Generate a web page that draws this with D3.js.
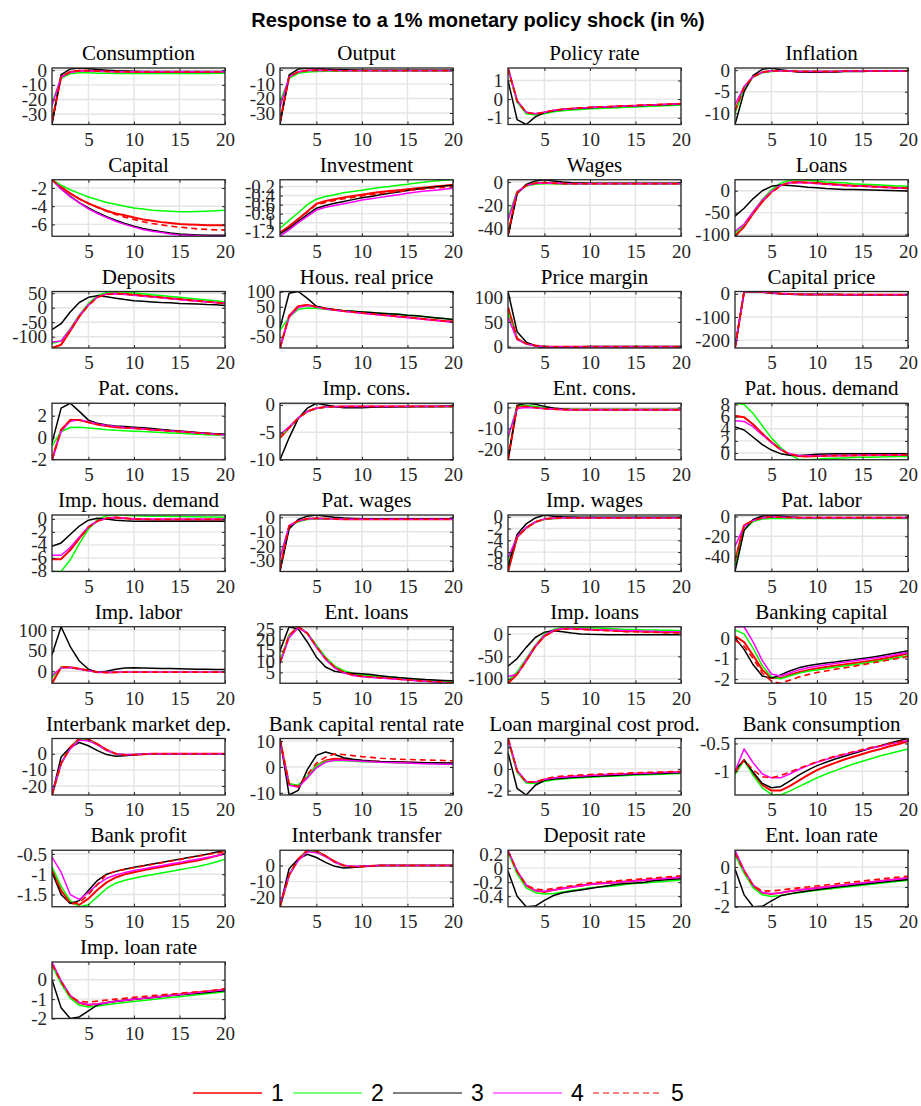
<!DOCTYPE html>
<html>
<head>
<meta charset="utf-8">
<style>
  body { margin: 0; background: #fff; }
  .main-title { font-family: "Liberation Sans", Arial, sans-serif; font-weight: bold; font-size: 20px; fill: #000; text-anchor: middle; }
  .ptitle { font-family: "Liberation Serif", "DejaVu Serif", serif; font-size: 21px; fill: #000; text-anchor: middle; }
  .tick text { font-family: "Liberation Serif", "DejaVu Serif", serif; font-size: 19px; fill: #262626; }
  .grid line { stroke: #e4e4e4; stroke-width: 1.4; }
  .frame { fill: none; stroke: #262626; stroke-width: 1.3; }
  .legend text { font-family: "Liberation Sans", Arial, sans-serif; font-size: 23px; fill: #000; }
</style>
<script src="https://cdn.jsdelivr.net/npm/d3@7"></script>
</head>
<body>
<svg width="921" height="1106"></svg>
<script>
var periods = [1,2,3,4,5,6,7,8,9,10,11,12,13,14,15,16,17,18,19,20];
var xTicks = [5, 10, 15, 20];
var legendLabels = ["1", "2", "3", "4", "5"];

var titles = ["Consumption", "Output", "Policy rate", "Inflation",
  "Capital", "Investment", "Wages", "Loans",
  "Deposits", "Hous. real price", "Price margin", "Capital price",
  "Pat. cons.", "Imp. cons.", "Ent. cons.", "Pat. hous. demand",
  "Imp. hous. demand", "Pat. wages", "Imp. wages", "Pat. labor",
  "Imp. labor", "Ent. loans", "Imp. loans", "Banking capital",
  "Interbank market dep.", "Bank capital rental rate", "Loan marginal cost prod.", "Bank consumption",
  "Bank profit", "Interbank transfer", "Deposit rate", "Ent. loan rate",
  "Imp. loan rate"];

var yTicks = [[-30,-20,-10,0], [-30,-20,-10,0], [-1,0,1], [-10,-5,0],
  [-6,-4,-2], [-1.2,-1,-0.8,-0.6,-0.4,-0.2], [-40,-20,0], [-100,-50,0],
  [-100,-50,0,50], [-50,0,50,100], [0,50,100], [-200,-100,0],
  [-2,0,2], [-10,-5,0], [-20,-10,0], [0,2,4,6,8],
  [-8,-6,-4,-2,0], [-30,-20,-10,0], [-8,-6,-4,-2,0], [-40,-20,0],
  [0,50,100], [5,10,15,20,25], [-100,-50,0], [-2,-1,0],
  [-20,-10,0], [-10,0,10], [-2,0,2], [-1,-0.5],
  [-1.5,-1,-0.5], [-20,-10,0], [-0.4,-0.2,0,0.2], [-2,-1,0],
  [-2,-1,0]];

// series 1 (red)
var s1 = [
  [-35,-4.5,-1.2,-0.3,-0.3,-0.6,-0.8,-1,-1.1,-1.2,-1.2,-1.2,-1.2,-1.2,-1.2,-1.2,-1.2,-1.2,-1.2,-1.2],
  [-36,-5,-1.5,-0.5,-0.4,-0.5,-0.6,-0.7,-0.7,-0.7,-0.7,-0.7,-0.7,-0.7,-0.7,-0.7,-0.7,-0.7,-0.7,-0.7],
  [1.65,-0.1,-0.72,-0.8,-0.72,-0.62,-0.56,-0.52,-0.49,-0.46,-0.44,-0.42,-0.4,-0.38,-0.36,-0.34,-0.32,-0.3,-0.28,-0.26],
  [-9.5,-4,-1.5,-0.5,-0.2,-0.2,-0.2,-0.3,-0.3,-0.3,-0.3,-0.3,-0.2,-0.2,-0.2,-0.2,-0.2,-0.2,-0.2,-0.2],
  [-1.1,-1.9,-2.6,-3.2,-3.7,-4.1,-4.5,-4.8,-5.0,-5.25,-5.45,-5.6,-5.75,-5.85,-5.95,-6.0,-6.05,-6.1,-6.1,-6.1],
  [-1.22,-1.08,-0.92,-0.75,-0.58,-0.52,-0.48,-0.44,-0.41,-0.38,-0.35,-0.32,-0.3,-0.28,-0.26,-0.24,-0.22,-0.2,-0.18,-0.16],
  [-45,-9,-3,-1,-0.5,-1,-1.3,-1.5,-1.5,-1.5,-1.5,-1.5,-1.5,-1.5,-1.5,-1.5,-1.5,-1.5,-1.5,-1.5],
  [-104,-82,-52,-25,-3,12,19,20,19,18,16,15,13,12,11,10,9,8,7,6],
  [-139,-128,-80,-30,10,38,48,50,48,45,42,39,36,33,30,27,24,21,18,15],
  [-87,20,52,56,50,44,40,36,33,30,27,24,21,18,15,12,9,6,3,1],
  [80,16,6,2,0,-0.5,-0.5,-0.5,-0.5,-0.5,-0.5,-0.5,-0.5,-0.5,-0.5,-0.5,-0.5,-0.5,-0.5,-0.5],
  [-234,8,10,8,4,1,-1,-2,-2.5,-3,-3,-3,-3.5,-3.5,-3.5,-4,-4,-4,-4,-4],
  [-2.05,0.7,1.6,1.6,1.4,1.2,1.05,0.95,0.9,0.85,0.8,0.72,0.66,0.6,0.54,0.48,0.42,0.36,0.3,0.25],
  [-6,-4.2,-2.4,-1.2,-0.6,-0.4,-0.35,-0.3,-0.3,-0.3,-0.3,-0.3,-0.3,-0.3,-0.3,-0.3,-0.3,-0.3,-0.3,-0.3],
  [-25,0.5,0.5,0,-0.5,-0.8,-1,-1.1,-1.1,-1.1,-1.1,-1.1,-1.1,-1.1,-1.1,-1.1,-1.1,-1.1,-1.1,-1.1],
  [6.1,5.9,4.7,3.2,1.8,0.6,-0.2,-0.5,-0.55,-0.5,-0.45,-0.42,-0.4,-0.38,-0.36,-0.34,-0.32,-0.3,-0.3,-0.3],
  [-6.2,-6.2,-4.8,-3.0,-1.3,-0.3,0.1,0.2,0.1,0,-0.05,-0.1,-0.1,-0.1,-0.1,-0.1,-0.1,-0.1,-0.1,-0.1],
  [-36,-6,-2.5,-1,-0.8,-1,-1.2,-1.3,-1.3,-1.3,-1.3,-1.3,-1.3,-1.3,-1.3,-1.3,-1.3,-1.3,-1.3,-1.3],
  [-9.3,-3.5,-1.9,-0.9,-0.4,-0.25,-0.2,-0.2,-0.2,-0.2,-0.2,-0.2,-0.2,-0.2,-0.2,-0.2,-0.2,-0.2,-0.2,-0.2],
  [-45,-9,-4,-1.5,-0.5,-0.8,-1,-1.2,-1.2,-1.2,-1.2,-1.2,-1.2,-1.2,-1.2,-1.2,-1.2,-1.2,-1.2,-1.2],
  [-29,10,10,6,2,-2,-3,-2.5,-2,-2,-2,-2,-2,-2,-2,-2,-2,-2,-2,-2],
  [9.5,22,26,23,17,11.5,7.5,5.2,4,3.3,3.0,2.7,2.4,2.0,1.7,1.4,1.1,0.8,0.5,0.2],
  [-110,-90,-60,-28,-5,7,12,12,11,10,9,8,7,6,6,5,5,4,4,3],
  [0.1,-0.2,-0.85,-1.55,-1.95,-1.95,-1.8,-1.66,-1.56,-1.48,-1.41,-1.35,-1.29,-1.23,-1.17,-1.1,-1.03,-0.95,-0.85,-0.75],
  [-25.6,-6,4,9.5,9,6,2.5,0,-0.8,-0.6,-0.3,0,0,0,0,0,0,0,0,0],
  [10.5,-6.5,-7.5,-3.8,0.5,2.5,3.2,3,2.7,2.4,2.2,2,1.9,1.8,1.7,1.6,1.5,1.5,1.4,1.4],
  [2.8,-0.2,-1.2,-1.25,-1.0,-0.85,-0.77,-0.72,-0.67,-0.62,-0.58,-0.54,-0.5,-0.47,-0.44,-0.41,-0.38,-0.35,-0.32,-0.3],
  [-1.02,-0.8,-1.05,-1.25,-1.35,-1.35,-1.27,-1.17,-1.07,-0.98,-0.91,-0.85,-0.79,-0.74,-0.69,-0.64,-0.6,-0.55,-0.51,-0.46],
  [-0.9,-1.4,-1.7,-1.75,-1.6,-1.38,-1.2,-1.08,-1.0,-0.95,-0.9,-0.86,-0.82,-0.78,-0.74,-0.7,-0.66,-0.61,-0.55,-0.49],
  [-25.6,-6,4,9.5,9,6,2.5,0,-0.8,-0.6,-0.3,0,0,0,0,0,0,0,0,0],
  [0.24,-0.05,-0.25,-0.32,-0.34,-0.31,-0.29,-0.27,-0.25,-0.23,-0.22,-0.21,-0.2,-0.19,-0.18,-0.17,-0.16,-0.15,-0.14,-0.13],
  [0.7,-0.2,-0.95,-1.3,-1.36,-1.3,-1.22,-1.16,-1.1,-1.05,-1.0,-0.95,-0.9,-0.85,-0.8,-0.75,-0.7,-0.65,-0.6,-0.55],
  [0.8,-0.1,-0.85,-1.2,-1.3,-1.25,-1.18,-1.11,-1.06,-1.01,-0.96,-0.91,-0.86,-0.81,-0.76,-0.71,-0.66,-0.61,-0.56,-0.5]
];

// series 2 (green)
var s2 = [
  [-22,-5.5,-2.5,-1.8,-1.8,-2,-2.1,-2.2,-2.2,-2.2,-2.2,-2.2,-2.2,-2.2,-2.2,-2.2,-2.2,-2.2,-2.1,-2.1],
  [-22,-6,-2.5,-1.5,-1.2,-1.1,-1,-1,-1,-1,-1,-1,-1,-1,-1,-1,-1,-1,-1,-1],
  [1.6,-0.15,-0.78,-0.85,-0.78,-0.68,-0.62,-0.58,-0.55,-0.52,-0.5,-0.48,-0.46,-0.44,-0.42,-0.4,-0.38,-0.36,-0.34,-0.32],
  [-10,-4.2,-1.6,-0.6,-0.3,-0.2,-0.2,-0.3,-0.3,-0.3,-0.3,-0.3,-0.2,-0.2,-0.2,-0.2,-0.2,-0.2,-0.2,-0.2],
  [-1.1,-1.7,-2.2,-2.6,-3.0,-3.3,-3.6,-3.8,-4.0,-4.2,-4.3,-4.45,-4.5,-4.55,-4.6,-4.6,-4.58,-4.55,-4.5,-4.45],
  [-1.12,-0.95,-0.78,-0.6,-0.48,-0.42,-0.38,-0.34,-0.31,-0.28,-0.25,-0.22,-0.2,-0.17,-0.15,-0.12,-0.1,-0.08,-0.06,-0.05],
  [-30,-8,-3.5,-1.8,-1.5,-1.5,-1.6,-1.6,-1.6,-1.6,-1.6,-1.6,-1.6,-1.6,-1.6,-1.6,-1.6,-1.6,-1.6,-1.6],
  [-98,-78,-48,-20,2,17,24,25,24,22,20,19,18,16,15,14,13,12,11,10],
  [-123,-115,-72,-25,15,42,53,56,54,51,48,45,42,39,36,33,30,27,24,20],
  [-28,15,42,46,45,42,39,37,35,33,31,29,27,25,22,20,17,14,11,8],
  [70,15,5,1.5,0,-0.5,-0.5,-0.5,-0.5,-0.5,-0.5,-0.5,-0.5,-0.5,-0.5,-0.5,-0.5,-0.5,-0.5,-0.5],
  [-225,6,9,7,4,1,-1,-2,-2.5,-3,-3,-3,-3.5,-3.5,-3.5,-4,-4,-4,-4,-4],
  [-0.8,0.55,0.92,0.95,0.88,0.8,0.72,0.66,0.62,0.58,0.54,0.5,0.46,0.42,0.38,0.34,0.3,0.26,0.22,0.18],
  [-5.8,-4.1,-2.4,-1.2,-0.65,-0.45,-0.4,-0.35,-0.35,-0.35,-0.35,-0.35,-0.35,-0.35,-0.35,-0.35,-0.35,-0.35,-0.35,-0.35],
  [-15,0.8,1,0.5,0,-0.5,-0.8,-1,-1,-1,-1,-1,-1,-1,-1,-1,-1,-1,-1,-1],
  [8.2,8.0,6.5,4.5,2.5,0.9,-0.3,-1.0,-1.1,-1.0,-0.9,-0.85,-0.8,-0.75,-0.7,-0.68,-0.65,-0.6,-0.58,-0.55],
  [-8.1,-8.1,-6.3,-3.8,-1.6,-0.1,0.5,0.6,0.55,0.5,0.45,0.42,0.4,0.38,0.36,0.34,0.32,0.3,0.28,0.26],
  [-27,-6.5,-3,-1.5,-1.2,-1.3,-1.4,-1.4,-1.4,-1.4,-1.4,-1.4,-1.4,-1.4,-1.4,-1.4,-1.4,-1.4,-1.4,-1.4],
  [-7.8,-3.4,-1.8,-0.9,-0.45,-0.3,-0.25,-0.25,-0.25,-0.25,-0.25,-0.25,-0.25,-0.25,-0.25,-0.25,-0.25,-0.25,-0.25,-0.25],
  [-50,-14,-5,-2.5,-2,-2,-2,-2,-2,-2,-2,-2,-2,-2,-2,-2,-2,-2,-2,-2],
  [-15,9,9,5,1.5,-2,-2.5,-2,-2,-2,-2,-2,-2,-2,-2,-2,-2,-2,-2,-2],
  [10,22,25.5,23,17.5,12,8,5.8,4.6,3.9,3.5,3.2,2.9,2.5,2.1,1.8,1.5,1.2,0.9,0.6],
  [-104,-85,-55,-25,0,10,15,16,15,14,13,12,11,10,10,9,9,8,8,7],
  [0.4,0.2,-0.5,-1.35,-1.9,-1.98,-1.85,-1.72,-1.62,-1.55,-1.48,-1.42,-1.36,-1.3,-1.24,-1.17,-1.1,-1.02,-0.94,-0.86],
  [-25,-6,3.5,9,8.5,5.5,2,0,-0.6,-0.5,-0.2,0,0,0,0,0,0,0,0,0],
  [10,-6.5,-7,-3.5,0.5,2.2,2.5,2.4,2.2,2,1.9,1.8,1.7,1.6,1.5,1.5,1.4,1.4,1.3,1.3],
  [2.6,-0.3,-1.3,-1.35,-1.15,-1.0,-0.92,-0.86,-0.81,-0.76,-0.72,-0.68,-0.64,-0.6,-0.57,-0.54,-0.51,-0.48,-0.45,-0.42],
  [-1.06,-0.8,-1.08,-1.3,-1.42,-1.43,-1.36,-1.28,-1.2,-1.12,-1.05,-0.99,-0.93,-0.87,-0.82,-0.77,-0.72,-0.68,-0.64,-0.6],
  [-0.82,-1.3,-1.65,-1.8,-1.75,-1.55,-1.35,-1.22,-1.15,-1.1,-1.05,-1.01,-0.97,-0.93,-0.89,-0.85,-0.81,-0.76,-0.7,-0.63],
  [-25,-6,3.5,9,8.5,5.5,2,0,-0.6,-0.5,-0.2,0,0,0,0,0,0,0,0,0],
  [0.22,-0.08,-0.28,-0.35,-0.37,-0.36,-0.34,-0.32,-0.3,-0.28,-0.27,-0.26,-0.25,-0.23,-0.22,-0.21,-0.2,-0.19,-0.18,-0.17],
  [0.6,-0.3,-1.05,-1.4,-1.48,-1.43,-1.36,-1.29,-1.23,-1.17,-1.12,-1.07,-1.02,-0.97,-0.92,-0.87,-0.82,-0.77,-0.72,-0.67],
  [0.75,-0.2,-0.95,-1.32,-1.4,-1.36,-1.29,-1.22,-1.17,-1.12,-1.07,-1.02,-0.97,-0.92,-0.87,-0.82,-0.77,-0.72,-0.67,-0.62]
];

// series 3 (black)
var s3 = [
  [-37,-3,0.8,1.5,1.2,0.5,0,-0.4,-0.6,-0.7,-0.8,-0.8,-0.8,-0.8,-0.8,-0.8,-0.8,-0.8,-0.8,-0.8],
  [-38,-3.5,0.5,1.2,1,0.5,0.2,0,-0.2,-0.3,-0.3,-0.3,-0.3,-0.3,-0.3,-0.3,-0.3,-0.3,-0.3,-0.3],
  [1.0,-1.1,-1.36,-0.95,-0.72,-0.62,-0.56,-0.52,-0.49,-0.46,-0.44,-0.42,-0.4,-0.38,-0.36,-0.34,-0.32,-0.3,-0.29,-0.28],
  [-12.6,-5,-1.2,0.2,0.5,0.1,-0.2,-0.4,-0.5,-0.5,-0.4,-0.4,-0.3,-0.3,-0.3,-0.2,-0.2,-0.2,-0.2,-0.2],
  [-1.1,-2.1,-2.9,-3.6,-4.2,-4.7,-5.15,-5.55,-5.9,-6.2,-6.45,-6.65,-6.8,-6.95,-7.05,-7.1,-7.15,-7.2,-7.2,-7.2],
  [-1.25,-1.12,-0.97,-0.82,-0.68,-0.62,-0.57,-0.53,-0.49,-0.45,-0.42,-0.38,-0.35,-0.32,-0.29,-0.26,-0.23,-0.21,-0.19,-0.17],
  [-46.7,-10,-2,1,2,1,0,-0.5,-0.8,-1,-1,-1,-1,-1,-1,-1,-1,-1,-1,-1],
  [-58,-40,-18,0,10,13,12,10,8,6.5,5,4,3,2.5,2,1.5,1,0.5,0,-0.5],
  [-76,-55,-15,18,36,41,38,33,28,24,22,20,18,17,15,14,13,11,10,8],
  [-20,95,101,78,52,45,40,37,35,33,31,29,27,25,22,20,17,14,11,8],
  [112,30,9,1,-3,-2.5,-1.5,-1,-0.5,0,0,0,0,0,0,0,0,0,0,0],
  [-234,9,10,8,4,0.5,-1.5,-2.5,-3,-3,-3,-3,-3.5,-3.5,-3.5,-4,-4,-4,-4,-4],
  [-0.5,2.7,3.15,2.4,1.6,1.3,1.15,1.05,1.0,0.95,0.9,0.82,0.74,0.66,0.6,0.52,0.46,0.4,0.35,0.3],
  [-10,-6,-2.5,-0.6,0.3,0,-0.3,-0.5,-0.5,-0.5,-0.45,-0.4,-0.4,-0.35,-0.35,-0.3,-0.3,-0.3,-0.25,-0.25],
  [-25,1,2,1.5,0.5,-0.3,-0.8,-1,-1,-1,-1,-1,-1,-1,-1,-1,-1,-1,-1,-1],
  [4.3,3.8,2.6,1.4,0.5,-0.1,-0.35,-0.4,-0.3,-0.2,-0.15,-0.12,-0.1,-0.1,-0.1,-0.1,-0.1,-0.1,-0.1,-0.1],
  [-4.2,-3.7,-2.4,-1.1,-0.2,0.1,0,-0.2,-0.3,-0.35,-0.35,-0.35,-0.35,-0.35,-0.35,-0.35,-0.35,-0.35,-0.35,-0.35],
  [-37.5,-8,-1.5,0.8,1.6,0.8,0,-0.5,-0.8,-1,-1,-1,-1,-1,-1,-1,-1,-1,-1,-1],
  [-8.5,-3,-1.2,-0.2,0.3,0.1,0,-0.05,-0.1,-0.1,-0.1,-0.1,-0.1,-0.1,-0.1,-0.1,-0.1,-0.1,-0.1,-0.1],
  [-55.7,-14,-3,0.5,1.5,0.5,-0.5,-1,-1.2,-1.2,-1.2,-1.2,-1.2,-1.2,-1.2,-1.2,-1.2,-1.2,-1.2,-1.2],
  [40,108,60,25,5,-3,0,5,8,8.5,8,7.5,7,6.5,6,5.5,5,5,4.5,4.5],
  [15,26,25,19,12,7.5,5.5,4.8,4.6,4.4,4.0,3.5,3.0,2.6,2.3,2.0,1.7,1.5,1.3,1.1],
  [-72,-55,-30,-8,4,7,5,2,0,-1,-1.5,-2,-2,-2,-2,-2,-2,-2,-2,-2],
  [0,-0.55,-1.3,-1.85,-1.95,-1.8,-1.6,-1.45,-1.35,-1.27,-1.21,-1.16,-1.1,-1.05,-0.99,-0.93,-0.86,-0.78,-0.7,-0.62],
  [-25.6,-2,4,7,5,2,-0.5,-1.5,-1.2,-0.6,-0.3,0,0,0,0,0,0,0,0,0],
  [11,-10.8,-9,-1,4.5,5.8,4.8,3.6,3,2.6,2.3,2.1,2,1.9,1.8,1.7,1.6,1.6,1.5,1.5],
  [1.5,-1.8,-2.4,-1.5,-1.05,-0.92,-0.86,-0.8,-0.75,-0.7,-0.66,-0.62,-0.58,-0.54,-0.5,-0.47,-0.44,-0.41,-0.38,-0.35],
  [-0.98,-0.8,-1.02,-1.22,-1.3,-1.28,-1.18,-1.07,-0.98,-0.9,-0.84,-0.78,-0.73,-0.68,-0.63,-0.58,-0.54,-0.49,-0.45,-0.41],
  [-0.95,-1.5,-1.72,-1.65,-1.4,-1.15,-1.0,-0.93,-0.88,-0.83,-0.79,-0.75,-0.71,-0.67,-0.63,-0.59,-0.55,-0.51,-0.46,-0.41],
  [-25.6,-2,4,7,5,2,-0.5,-1.5,-1.2,-0.6,-0.3,0,0,0,0,0,0,0,0,0],
  [-0.04,-0.4,-0.55,-0.54,-0.46,-0.39,-0.35,-0.33,-0.31,-0.29,-0.27,-0.25,-0.23,-0.22,-0.21,-0.2,-0.18,-0.17,-0.16,-0.15],
  [-0.1,-1.4,-2.0,-1.98,-1.7,-1.45,-1.35,-1.27,-1.2,-1.14,-1.08,-1.02,-0.97,-0.92,-0.87,-0.82,-0.77,-0.72,-0.67,-0.62],
  [0,-1.45,-2.0,-1.92,-1.6,-1.3,-1.18,-1.11,-1.06,-1.01,-0.96,-0.91,-0.86,-0.81,-0.77,-0.73,-0.69,-0.65,-0.61,-0.57]
];

// series 4 (magenta)
var s4 = [
  [-24,-4.8,-1.5,-0.6,-0.5,-0.7,-0.9,-1,-1.1,-1.1,-1.1,-1.1,-1.1,-1.1,-1.1,-1.1,-1.1,-1.1,-1.1,-1.1],
  [-26,-5,-1.6,-0.6,-0.4,-0.5,-0.6,-0.7,-0.7,-0.7,-0.7,-0.7,-0.7,-0.7,-0.7,-0.7,-0.7,-0.7,-0.7,-0.7],
  [1.67,-0.08,-0.7,-0.78,-0.7,-0.6,-0.55,-0.51,-0.48,-0.45,-0.43,-0.41,-0.39,-0.37,-0.35,-0.33,-0.31,-0.29,-0.27,-0.25],
  [-8,-3.8,-1.5,-0.5,-0.2,-0.2,-0.2,-0.3,-0.3,-0.3,-0.3,-0.3,-0.2,-0.2,-0.2,-0.2,-0.2,-0.2,-0.2,-0.2],
  [-1.1,-2.1,-2.95,-3.65,-4.3,-4.8,-5.25,-5.65,-6.0,-6.3,-6.55,-6.75,-6.9,-7.05,-7.15,-7.2,-7.25,-7.3,-7.3,-7.3],
  [-1.3,-1.16,-1.0,-0.86,-0.72,-0.66,-0.62,-0.58,-0.54,-0.5,-0.47,-0.44,-0.41,-0.38,-0.35,-0.32,-0.3,-0.28,-0.26,-0.24],
  [-33,-8.5,-3,-1.2,-0.8,-1.1,-1.3,-1.4,-1.4,-1.4,-1.4,-1.4,-1.4,-1.4,-1.4,-1.4,-1.4,-1.4,-1.4,-1.4],
  [-93,-76,-48,-22,-2,12,18,19,18,16,15,13,12,11,10,9,8,7,6,5],
  [-118,-115,-75,-27,10,38,47,48,46,43,40,37,34,31,28,25,23,20,18,16],
  [-87,15,48,54,49,43,39,35,32,29,26,23,20,17,14,11,8,5,2,-2],
  [60,14,5,1.5,0,-0.5,-0.5,-0.5,-0.5,-0.5,-0.5,-0.5,-0.5,-0.5,-0.5,-0.5,-0.5,-0.5,-0.5,-0.5],
  [-230,8,10,8,4,1,-1,-2,-2.5,-3,-3,-3,-3.5,-3.5,-3.5,-4,-4,-4,-4,-4],
  [-2.05,0.55,1.5,1.62,1.45,1.25,1.1,1.0,0.92,0.86,0.8,0.72,0.66,0.6,0.54,0.48,0.42,0.36,0.3,0.22],
  [-5.4,-4,-2.4,-1.2,-0.6,-0.4,-0.35,-0.3,-0.3,-0.3,-0.3,-0.3,-0.3,-0.3,-0.3,-0.3,-0.3,-0.3,-0.3,-0.3],
  [-14,-0.5,0,-0.2,-0.5,-0.8,-1,-1.1,-1.1,-1.1,-1.1,-1.1,-1.1,-1.1,-1.1,-1.1,-1.1,-1.1,-1.1,-1.1],
  [5.3,5.2,4.3,3.0,1.7,0.6,-0.1,-0.4,-0.45,-0.45,-0.42,-0.4,-0.38,-0.36,-0.34,-0.32,-0.3,-0.3,-0.28,-0.26],
  [-5.6,-5.6,-4.4,-2.8,-1.2,-0.3,0.1,0.2,0.1,0,0,-0.05,-0.05,-0.05,-0.05,-0.05,-0.05,-0.05,-0.05,-0.05],
  [-28,-6,-2.5,-1.1,-0.9,-1,-1.2,-1.3,-1.3,-1.3,-1.3,-1.3,-1.3,-1.3,-1.3,-1.3,-1.3,-1.3,-1.3,-1.3],
  [-7,-3.4,-1.8,-0.9,-0.4,-0.25,-0.2,-0.2,-0.2,-0.2,-0.2,-0.2,-0.2,-0.2,-0.2,-0.2,-0.2,-0.2,-0.2,-0.2],
  [-30,-10,-4,-1.5,-0.6,-0.8,-1,-1.2,-1.2,-1.2,-1.2,-1.2,-1.2,-1.2,-1.2,-1.2,-1.2,-1.2,-1.2,-1.2],
  [-10,8,9,5,1.5,-2,-2.5,-2,-2,-2,-2,-2,-2,-2,-2,-2,-2,-2,-2,-2],
  [9,21,25.5,23,16.5,11,7,4.8,3.6,3.0,2.7,2.4,2.1,1.8,1.5,1.2,0.9,0.6,0.3,0],
  [-95,-90,-58,-27,-3,8,12,12,11,10,9,8,8,7,7,6,6,5,5,5],
  [0.55,0.55,-0.2,-1.1,-1.75,-1.85,-1.7,-1.55,-1.45,-1.37,-1.3,-1.24,-1.18,-1.12,-1.06,-1.0,-0.94,-0.86,-0.78,-0.7],
  [-24,-6,3,8.5,8,5.5,2,0,-0.5,-0.4,-0.2,0,0,0,0,0,0,0,0,0],
  [10,-7,-7.8,-4.2,-0.3,1.8,2.6,2.6,2.4,2.2,2,1.8,1.7,1.6,1.5,1.4,1.3,1.2,1.1,1.1],
  [2.8,-0.15,-1.15,-1.2,-0.98,-0.84,-0.76,-0.7,-0.65,-0.6,-0.56,-0.52,-0.48,-0.45,-0.42,-0.39,-0.36,-0.33,-0.3,-0.28],
  [-1.0,-0.6,-0.85,-1.05,-1.12,-1.12,-1.05,-0.97,-0.9,-0.84,-0.79,-0.74,-0.7,-0.66,-0.62,-0.58,-0.55,-0.51,-0.48,-0.44],
  [-0.58,-0.95,-1.5,-1.62,-1.45,-1.25,-1.1,-1.02,-0.96,-0.91,-0.87,-0.83,-0.79,-0.75,-0.71,-0.67,-0.63,-0.59,-0.55,-0.5],
  [-24,-6,3,8.5,8,5.5,2,0,-0.5,-0.4,-0.2,0,0,0,0,0,0,0,0,0],
  [0.255,-0.04,-0.24,-0.32,-0.33,-0.31,-0.29,-0.27,-0.25,-0.23,-0.22,-0.21,-0.2,-0.19,-0.18,-0.17,-0.16,-0.15,-0.14,-0.13],
  [0.85,-0.15,-0.9,-1.28,-1.35,-1.3,-1.22,-1.16,-1.1,-1.05,-1.0,-0.95,-0.9,-0.85,-0.8,-0.75,-0.7,-0.65,-0.6,-0.55],
  [0.92,-0.05,-0.8,-1.17,-1.28,-1.25,-1.18,-1.11,-1.06,-1.01,-0.96,-0.91,-0.86,-0.81,-0.76,-0.71,-0.66,-0.61,-0.56,-0.5]
];

// series 5 (red dashed)
var s5 = [
  [-35,-4.5,-1.2,-0.3,-0.3,-0.6,-0.8,-1,-1.1,-1.2,-1.2,-1.2,-1.2,-1.2,-1.2,-1.2,-1.2,-1.2,-1.2,-1.2],
  [-36,-5,-1.5,-0.5,-0.4,-0.5,-0.6,-0.7,-0.7,-0.7,-0.7,-0.7,-0.7,-0.7,-0.7,-0.7,-0.7,-0.7,-0.7,-0.7],
  [1.65,-0.1,-0.72,-0.8,-0.7,-0.6,-0.54,-0.5,-0.47,-0.44,-0.42,-0.4,-0.38,-0.36,-0.34,-0.32,-0.3,-0.28,-0.26,-0.24],
  [-9.5,-4,-1.5,-0.5,-0.2,-0.2,-0.2,-0.3,-0.3,-0.3,-0.3,-0.3,-0.2,-0.2,-0.2,-0.2,-0.2,-0.2,-0.2,-0.2],
  [-1.1,-1.9,-2.6,-3.2,-3.7,-4.15,-4.55,-4.9,-5.2,-5.45,-5.7,-5.9,-6.05,-6.2,-6.3,-6.4,-6.5,-6.55,-6.6,-6.6],
  [-1.22,-1.08,-0.92,-0.76,-0.6,-0.55,-0.51,-0.47,-0.44,-0.41,-0.38,-0.36,-0.33,-0.31,-0.29,-0.27,-0.25,-0.23,-0.22,-0.2],
  [-45,-9,-3,-1,-0.5,-1,-1.3,-1.5,-1.5,-1.5,-1.5,-1.5,-1.5,-1.5,-1.5,-1.5,-1.5,-1.5,-1.5,-1.5],
  [-104,-82,-52,-25,-4,11,18,19,18,17,15,14,12,11,10,9,8,7,6,5],
  [-139,-128,-80,-30,8,36,46,48,46,44,41,38,35,32,29,26,23,21,18,15],
  [-87,20,52,56,50,44,40,36,33,30,27,24,21,18,15,12,9,6,3,1],
  [80,16,6,2,0,-0.5,-0.5,-0.5,-0.5,-0.5,-0.5,-0.5,-0.5,-0.5,-0.5,-0.5,-0.5,-0.5,-0.5,-0.5],
  [-234,8,10,8,4,1,-1,-2,-2.5,-3,-3,-3,-3.5,-3.5,-3.5,-4,-4,-4,-4,-4],
  [-2.05,0.7,1.6,1.6,1.4,1.2,1.05,0.95,0.9,0.85,0.8,0.72,0.66,0.6,0.54,0.48,0.42,0.36,0.3,0.25],
  [-6,-4.2,-2.4,-1.2,-0.6,-0.4,-0.35,-0.3,-0.3,-0.3,-0.3,-0.3,-0.3,-0.3,-0.3,-0.3,-0.3,-0.3,-0.3,-0.3],
  [-25,0.5,0.5,0,-0.5,-0.8,-1,-1.1,-1.1,-1.1,-1.1,-1.1,-1.1,-1.1,-1.1,-1.1,-1.1,-1.1,-1.1,-1.1],
  [6.1,5.9,4.7,3.2,1.8,0.6,-0.2,-0.5,-0.55,-0.5,-0.45,-0.42,-0.4,-0.38,-0.36,-0.34,-0.32,-0.3,-0.3,-0.3],
  [-6.2,-6.2,-4.8,-3.0,-1.3,-0.3,0.1,0.2,0.1,0,-0.05,-0.1,-0.1,-0.1,-0.1,-0.1,-0.1,-0.1,-0.1,-0.1],
  [-36,-6,-2.5,-1,-0.8,-1,-1.2,-1.3,-1.3,-1.3,-1.3,-1.3,-1.3,-1.3,-1.3,-1.3,-1.3,-1.3,-1.3,-1.3],
  [-9.3,-3.5,-1.9,-0.9,-0.4,-0.25,-0.2,-0.2,-0.2,-0.2,-0.2,-0.2,-0.2,-0.2,-0.2,-0.2,-0.2,-0.2,-0.2,-0.2],
  [-45,-9,-4,-1.5,-0.5,-0.8,-1,-1.2,-1.2,-1.2,-1.2,-1.2,-1.2,-1.2,-1.2,-1.2,-1.2,-1.2,-1.2,-1.2],
  [-29,10,10,6,2,-2,-3,-2.5,-2,-2,-2,-2,-2,-2,-2,-2,-2,-2,-2,-2],
  [9.5,22,26,23,17,11.5,7.5,5.0,3.8,3.2,2.9,2.6,2.3,1.9,1.6,1.3,1.0,0.7,0.5,0.2],
  [-110,-90,-60,-28,-5,6,11,11,10,9,8,7,6,5,5,4,4,3,3,2],
  [-0.1,-0.4,-1.0,-1.7,-2.1,-2.2,-2.05,-1.9,-1.78,-1.68,-1.6,-1.52,-1.45,-1.38,-1.3,-1.22,-1.14,-1.06,-0.98,-0.9],
  [-25.6,-6,4,9.5,9,6,2.5,0,-0.8,-0.6,-0.3,0,0,0,0,0,0,0,0,0],
  [10.5,-6.5,-7.5,-3,1.5,3.8,5,4.8,4.4,4,3.7,3.4,3.2,3,2.9,2.8,2.7,2.6,2.5,2.4],
  [2.8,-0.2,-1.2,-1.2,-0.92,-0.75,-0.66,-0.6,-0.56,-0.52,-0.48,-0.45,-0.42,-0.39,-0.36,-0.33,-0.3,-0.28,-0.25,-0.22],
  [-1.02,-0.8,-0.98,-1.1,-1.12,-1.08,-1.02,-0.95,-0.89,-0.83,-0.78,-0.73,-0.69,-0.65,-0.61,-0.57,-0.54,-0.5,-0.47,-0.44],
  [-0.9,-1.42,-1.72,-1.7,-1.5,-1.25,-1.0,-0.92,-0.88,-0.84,-0.8,-0.76,-0.72,-0.68,-0.64,-0.6,-0.56,-0.52,-0.48,-0.45],
  [-25.6,-6,4,9.5,9,6,2.5,0,-0.8,-0.6,-0.3,0,0,0,0,0,0,0,0,0],
  [0.24,-0.05,-0.24,-0.3,-0.31,-0.29,-0.27,-0.25,-0.23,-0.21,-0.2,-0.19,-0.18,-0.17,-0.16,-0.15,-0.14,-0.13,-0.12,-0.11],
  [0.7,-0.2,-0.95,-1.2,-1.2,-1.16,-1.1,-1.05,-1.0,-0.95,-0.9,-0.85,-0.8,-0.75,-0.7,-0.65,-0.6,-0.55,-0.5,-0.45],
  [0.8,-0.1,-0.85,-1.12,-1.15,-1.1,-1.05,-1.0,-0.95,-0.9,-0.86,-0.82,-0.78,-0.74,-0.7,-0.66,-0.62,-0.58,-0.52,-0.46]
];

var styles = [
  { data: s1, color: "#ff0000", width: 2.0, dash: null },
  { data: s2, color: "#00ff00", width: 1.5, dash: null },
  { data: s3, color: "#000000", width: 1.5, dash: null },
  { data: s4, color: "#ff00ff", width: 1.5, dash: null },
  { data: s5, color: "#ff0000", width: 1.6, dash: "6,4" }
];

var svg = d3.select("svg");
var colX = [52, 280, 508, 735], pw = 173, ph = 56.5;
function rowY(r) { return 68 + r * 111.75; }

svg.append("text").attr("class", "main-title")
  .attr("x", 478).attr("y", 27)
  .text("Response to a 1% monetary policy shock (in %)");

var x = d3.scaleLinear().domain([1, 20]).range([0, pw]);
var serif = "'Liberation Serif', 'DejaVu Serif', serif";

titles.forEach(function (t, i) {
  var c = i % 4, r = Math.floor(i / 4);
  var g = svg.append("g")
    .attr("transform", "translate(" + colX[c] + "," + rowY(r) + ")");

  var all = [];
  styles.forEach(function (s) { all = all.concat(s.data[i]); });
  var y = d3.scaleLinear().domain(d3.extent(all)).range([ph, 0]);
  var ticks = yTicks[i].filter(function (v) { return v >= y.domain()[0] - 1e-9 && v <= y.domain()[1] + 1e-9; });

  // grid
  var grid = g.append("g").attr("class", "grid");
  grid.selectAll(".gx").data(xTicks).enter().append("line")
    .attr("x1", function (d) { return x(d); }).attr("x2", function (d) { return x(d); })
    .attr("y1", 0).attr("y2", ph);
  grid.selectAll(".gy").data(ticks).enter().append("line")
    .attr("x1", 0).attr("x2", pw)
    .attr("y1", function (d) { return y(d); }).attr("y2", function (d) { return y(d); });

  g.append("clipPath").attr("id", "clip" + i)
    .append("rect").attr("width", pw).attr("height", ph);

  var line = d3.line()
    .x(function (d, k) { return x(periods[k]); })
    .y(function (d) { return y(d); });

  var lines = g.append("g").attr("clip-path", "url(#clip" + i + ")");
  styles.forEach(function (s) {
    lines.append("path")
      .attr("d", line(s.data[i]))
      .attr("fill", "none")
      .attr("stroke", s.color)
      .attr("stroke-width", s.width)
      .attr("stroke-linejoin", "round")
      .attr("stroke-dasharray", s.dash);
  });

  // axes
  var fmt = function (d) { return String(d); };
  function tidy(a) {
    a.select(".domain").remove();
    a.selectAll("line").attr("stroke", "#262626");
    a.attr("font-family", serif).attr("font-size", 19);
  }
  g.append("g").attr("transform", "translate(0," + ph + ")")
    .call(d3.axisBottom(x).tickValues(xTicks).tickSize(-3).tickPadding(8).tickFormat(fmt))
    .call(tidy);
  g.append("g")
    .call(d3.axisLeft(y).tickValues(ticks).tickSize(-3).tickPadding(5).tickFormat(fmt))
    .call(tidy);
  g.append("g").attr("transform", "translate(" + pw + ",0)")
    .call(d3.axisRight(y).tickValues(ticks).tickSize(-3).tickFormat(""))
    .call(tidy);
  g.append("g")
    .call(d3.axisTop(x).tickValues(xTicks).tickSize(-3).tickFormat(""))
    .call(tidy);

  g.append("rect").attr("class", "frame").attr("width", pw).attr("height", ph);

  g.append("text").attr("class", "ptitle")
    .attr("x", pw / 2).attr("y", -8)
    .style("font-family", serif)
    .text(t);
});

// legend
var legend = svg.append("g").attr("class", "legend");
styles.forEach(function (s, i) {
  var x0 = 193 + i * 100;
  legend.append("line")
    .attr("x1", x0).attr("x2", x0 + 69)
    .attr("y1", 1093).attr("y2", 1093)
    .attr("stroke", s.color).attr("stroke-width", s.width - 0.4)
    .attr("stroke-dasharray", s.dash);
  legend.append("text")
    .attr("x", x0 + 78).attr("y", 1101)
    .text(legendLabels[i]);
});
</script>
</body>
</html>
